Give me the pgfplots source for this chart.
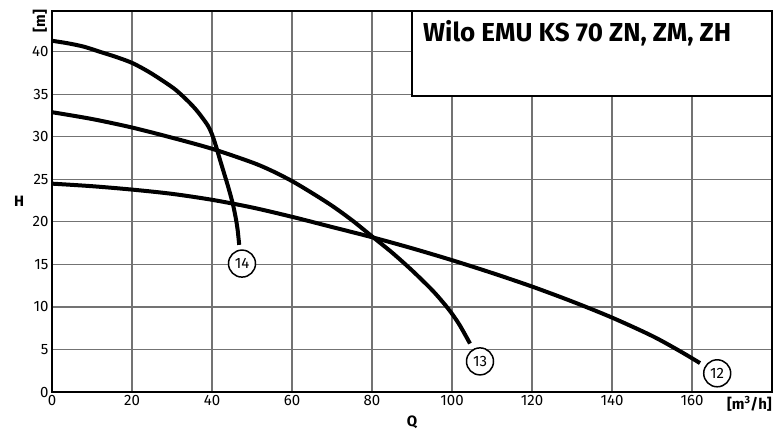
\documentclass[border=0pt]{standalone}
\usepackage{fontspec}
\setmainfont{Fira Sans}
\usepackage{pgfplots}
\pgfplotsset{compat=1.18}
\begin{document}
\begin{tikzpicture}
\begin{axis}[
  scale only axis, width=720pt, height=381pt,
  xmin=0, xmax=180, ymin=0, ymax=44.8,
  xtick={0,20,...,160}, ytick={0,5,...,40},
  grid=major,
  major grid style={line width=1.1pt, color=black!55},
  axis line style={line width=1.6pt, black},
  tick style={draw=none},
  tick label style={font=\fontsize{15}{17}\selectfont},
  /pgf/number format/assume math mode=true,
  clip=false,
]
\filldraw[fill=white, draw=black, line width=1.6pt] (axis cs:90,34.8) rectangle (axis cs:180,44.8);
\node[anchor=base west, font=\bfseries\fontsize{26}{30}\selectfont, inner sep=0pt] at (axis cs:92.75,41.2) {Wilo EMU KS 70 ZN, ZM, ZH};

% curve 14
\addplot[black, line width=4pt, smooth] coordinates {
(0,41.3) (4,41.0) (8,40.6) (12,40.0) (16,39.4) (20,38.7) (24,37.7) (28,36.5) (31,35.5) (34,34.2) (36,33.2) (37.5,32.3) (39,31.3) (40,30.3) (41,28.9) (42,27.3) (43,25.75) (44,24.2) (45,22.5) (45.5,21.5) (46,20.3) (46.4,19.1) (46.8,17.3)
};
% curve 13
\addplot[black, line width=4pt, smooth] coordinates {
(0,32.9) (10,32.1) (20,31.1) (30,29.9) (40,28.6) (50,27.0) (55,26.0) (60,24.8) (65,23.4) (70,21.9) (75,20.2) (80,18.3) (85,16.4) (90,14.3) (95,12.0) (98,10.4) (100,9.2) (102,7.8) (104.5,5.7)
};
% curve 12
\addplot[black, line width=4pt, smooth] coordinates {
(0,24.5) (10,24.2) (20,23.8) (30,23.3) (40,22.6) (50,21.7) (60,20.6) (70,19.4) (80,18.2) (90,16.9) (100,15.5) (110,14.0) (120,12.4) (130,10.65) (140,8.75) (150,6.6) (157,4.8) (162,3.4)
};

\tikzset{lab/.style={draw=black, circle, line width=1.5pt, minimum size=27pt, inner sep=0pt, fill=white, font=\fontsize{15}{17}\selectfont}}
\node[lab] at (axis cs:47.5,15.1) {14};
\node[lab] at (axis cs:107,3.6) {13};
\node[lab] at (axis cs:166.3,2.2) {12};

\node[font=\bfseries\fontsize{15}{17}\selectfont] at ([xshift=-33pt]rel axis cs:0,0.5) {H};
\node[font=\bfseries\fontsize{15}{17}\selectfont, inner sep=0pt] at ([yshift=-30pt]rel axis cs:0.5,0) {Q};
\node[font=\bfseries\fontsize{15}{17}\selectfont, rotate=90] at ([xshift=-12pt,yshift=-10pt]rel axis cs:0,1) {[m]};
\node[font=\bfseries\fontsize{15}{17}\selectfont, anchor=base east, inner sep=0pt] at ([yshift=-17pt]rel axis cs:1,0) {[m\textsuperscript{3}/h]};
\end{axis}
\pgfresetboundingbox
\path[use as bounding box] ([shift={(-52pt,-37pt)}]current axis.south west) rectangle ([shift={(1pt,11pt)}]current axis.north east);
\end{tikzpicture}
\end{document}
